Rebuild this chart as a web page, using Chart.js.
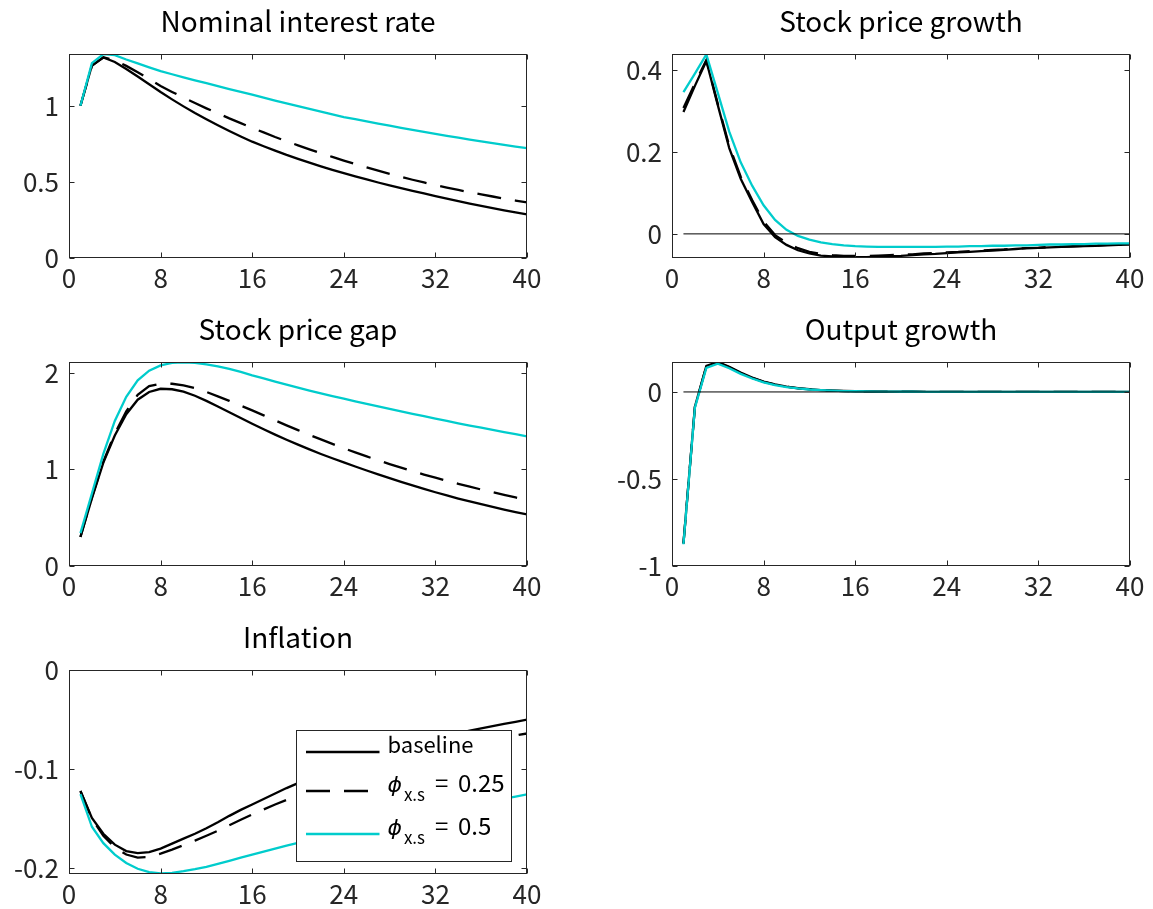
<!DOCTYPE html>
<html>
<head>
<meta charset="utf-8">
<script src="https://cdn.jsdelivr.net/npm/chart.js@4.4.1/dist/chart.umd.min.js"></script>
<style>
html,body{margin:0;padding:0;background:#fff;width:1153px;height:909px;overflow:hidden;position:relative;}
canvas{position:absolute;}
</style>
</head>
<body>
<canvas id="c1" width="550" height="303" style="left:0px;top:0px"></canvas>
<canvas id="c2" width="550" height="303" style="left:603px;top:0px"></canvas>
<canvas id="c3" width="550" height="303" style="left:0px;top:308px"></canvas>
<canvas id="c4" width="550" height="303" style="left:603px;top:308px"></canvas>
<canvas id="c5" width="550" height="303" style="left:0px;top:616px"></canvas>
<script>
// ---------- data ----------
const periods = [1,2,3,4,5,6,7,8,9,10,11,12,13,14,15,16,17,18,19,20,21,22,23,24,25,26,27,28,29,30,31,32,33,34,35,36,37,38,39,40];
const xTicks = [0,8,16,24,32,40];
const xTickLabels = ['0','8','16','24','32','40'];
const titles = ['Nominal interest rate','Stock price growth','Stock price gap','Output growth','Inflation'];
const legendLabels = ['baseline','ϕ_{x.s} = 0.25','ϕ_{x.s} = 0.5'];
const zeroLineX = [1,40];
const zeroLineY = [0,0];

// Nominal interest rate
const rateBaseline = [1.000,1.265,1.317,1.288,1.242,1.192,1.141,1.090,1.042,0.996,0.952,0.911,0.872,0.834,0.798,0.764,0.734,0.705,0.677,0.651,0.626,0.602,0.579,0.557,0.536,0.516,0.496,0.477,0.459,0.441,0.424,0.407,0.390,0.373,0.357,0.342,0.327,0.313,0.299,0.286];
const rateDash = [1.000,1.262,1.318,1.300,1.262,1.220,1.175,1.130,1.091,1.054,1.018,0.983,0.950,0.917,0.886,0.855,0.825,0.795,0.767,0.740,0.714,0.688,0.664,0.640,0.617,0.595,0.574,0.553,0.533,0.514,0.496,0.478,0.462,0.447,0.432,0.418,0.404,0.390,0.377,0.365];
const rateHigh = [1.000,1.280,1.339,1.332,1.304,1.278,1.252,1.227,1.207,1.187,1.167,1.148,1.129,1.110,1.091,1.073,1.053,1.034,1.015,0.997,0.979,0.961,0.943,0.926,0.912,0.897,0.883,0.869,0.855,0.841,0.828,0.815,0.802,0.790,0.778,0.766,0.754,0.743,0.732,0.721];
const rateYTicks = [0,0.5,1];
const rateYLabels = ['0','0.5','1'];

// Stock price growth
const growthBaseline = [0.298,0.362,0.423,0.315,0.210,0.135,0.078,0.024,-0.008,-0.027,-0.040,-0.048,-0.053,-0.055,-0.057,-0.057,-0.057,-0.056,-0.055,-0.054,-0.052,-0.050,-0.049,-0.047,-0.045,-0.044,-0.042,-0.041,-0.039,-0.037,-0.035,-0.034,-0.033,-0.032,-0.031,-0.030,-0.029,-0.028,-0.027,-0.026];
const growthDash = [0.308,0.368,0.425,0.318,0.215,0.140,0.083,0.030,-0.003,-0.022,-0.035,-0.044,-0.049,-0.052,-0.054,-0.054,-0.054,-0.053,-0.052,-0.051,-0.050,-0.048,-0.047,-0.045,-0.044,-0.042,-0.041,-0.039,-0.038,-0.036,-0.035,-0.034,-0.032,-0.031,-0.030,-0.029,-0.028,-0.027,-0.027,-0.026];
const growthHigh = [0.347,0.392,0.439,0.345,0.250,0.175,0.118,0.070,0.034,0.010,-0.005,-0.014,-0.021,-0.025,-0.028,-0.030,-0.031,-0.032,-0.032,-0.032,-0.032,-0.032,-0.032,-0.031,-0.031,-0.030,-0.030,-0.029,-0.029,-0.028,-0.028,-0.027,-0.026,-0.026,-0.025,-0.025,-0.024,-0.024,-0.023,-0.023];
const growthYTicks = [0,0.2,0.4];
const growthYLabels = ['0','0.2','0.4'];

// Stock price gap
const gapBaseline = [0.30,0.70,1.07,1.35,1.57,1.72,1.80,1.833,1.828,1.803,1.761,1.708,1.650,1.590,1.530,1.471,1.414,1.359,1.306,1.255,1.206,1.159,1.114,1.071,1.029,0.988,0.948,0.909,0.871,0.834,0.798,0.763,0.730,0.698,0.668,0.639,0.611,0.584,0.558,0.533];
const gapDash = [0.30,0.71,1.08,1.37,1.60,1.77,1.86,1.885,1.885,1.868,1.840,1.800,1.755,1.708,1.659,1.610,1.558,1.506,1.455,1.405,1.356,1.309,1.263,1.218,1.175,1.133,1.093,1.054,1.017,0.981,0.946,0.913,0.881,0.850,0.820,0.791,0.763,0.736,0.709,0.683];
const gapHigh = [0.34,0.75,1.16,1.50,1.75,1.92,2.02,2.075,2.100,2.106,2.100,2.086,2.065,2.040,2.007,1.972,1.940,1.907,1.875,1.844,1.814,1.785,1.757,1.730,1.703,1.677,1.651,1.625,1.599,1.574,1.549,1.524,1.500,1.476,1.453,1.430,1.407,1.385,1.363,1.341];
const gapYTicks = [0,1,2];
const gapYLabels = ['0','1','2'];

// Output growth
const outBaseline = [-0.870,-0.085,0.150,0.172,0.145,0.112,0.083,0.060,0.043,0.031,0.022,0.016,0.011,0.008,0.006,0.004,0.003,0.002,0.0015,0.001,0.001,0.0007,0.0005,0.0004,0.0003,0.0002,0.0002,0.0001,0.0001,0.0001,0,0,0,0,0,0,0,0,0,0];
const outDash = [-0.872,-0.087,0.147,0.169,0.142,0.109,0.081,0.058,0.042,0.030,0.021,0.015,0.011,0.008,0.005,0.004,0.003,0.002,0.0015,0.001,0.001,0.0007,0.0005,0.0004,0.0003,0.0002,0.0002,0.0001,0.0001,0.0001,0,0,0,0,0,0,0,0,0,0];
const outHigh = [-0.875,-0.090,0.138,0.162,0.136,0.104,0.077,0.055,0.039,0.028,0.020,0.014,0.010,0.007,0.005,0.004,0.003,0.002,0.0015,0.001,0.001,0.0007,0.0005,0.0004,0.0003,0.0002,0.0002,0.0001,0.0001,0.0001,0,0,0,0,0,0,0,0,0,0];
const outYTicks = [-1,-0.5,0];
const outYLabels = ['-1','-0.5','0'];

// Inflation
const inflBaseline = [-0.122,-0.149,-0.165,-0.176,-0.1825,-0.1845,-0.1835,-0.180,-0.175,-0.170,-0.165,-0.1595,-0.1535,-0.147,-0.141,-0.1355,-0.130,-0.1245,-0.119,-0.114,-0.109,-0.1045,-0.100,-0.096,-0.092,-0.088,-0.0845,-0.081,-0.0775,-0.0745,-0.0715,-0.069,-0.066,-0.0635,-0.061,-0.0588,-0.0566,-0.0544,-0.0522,-0.050];
const inflDash = [-0.122,-0.150,-0.167,-0.179,-0.186,-0.189,-0.1885,-0.185,-0.181,-0.1765,-0.172,-0.167,-0.162,-0.1565,-0.151,-0.1455,-0.1405,-0.1355,-0.131,-0.1265,-0.122,-0.118,-0.114,-0.110,-0.106,-0.1025,-0.099,-0.0955,-0.092,-0.089,-0.086,-0.083,-0.0805,-0.078,-0.0755,-0.073,-0.0705,-0.068,-0.066,-0.064];
const inflHigh = [-0.125,-0.158,-0.1745,-0.186,-0.1945,-0.2003,-0.2037,-0.205,-0.2045,-0.2028,-0.2008,-0.1985,-0.1955,-0.1923,-0.1891,-0.186,-0.183,-0.180,-0.177,-0.1742,-0.1714,-0.1686,-0.1659,-0.1632,-0.1605,-0.1579,-0.1553,-0.1528,-0.1503,-0.1478,-0.1454,-0.143,-0.1407,-0.1384,-0.1361,-0.1339,-0.1317,-0.1296,-0.1275,-0.1254];
const inflYTicks = [-0.2,-0.1,0];
const inflYLabels = ['-0.2','-0.1','0'];

// ---------- style ----------
const FONT = '"Noto Sans CJK JP", "Noto Sans", sans-serif';
const AXIS_COLOR = '#262626';
const CYAN = 'rgb(0,204,204)';
const DASH = [24, 14];
const TICK_LEN = 5;
Chart.defaults.font.family = FONT;

const boxPlugin = {
  id: 'matlabBox',
  afterDatasetsDraw(chart) {
    const {ctx, chartArea: a, scales} = chart;
    const L = Math.round(a.left) + 0.5, R = Math.round(a.right) - 0.5;
    const T = Math.round(a.top) + 0.5, B = Math.round(a.bottom) - 0.5;
    ctx.save();
    ctx.strokeStyle = AXIS_COLOR;
    ctx.lineWidth = 1;
    ctx.strokeRect(L, T, R - L, B - T);
    ctx.beginPath();
    scales.x.ticks.forEach(t => {
      const px = Math.round(scales.x.getPixelForValue(t.value)) + 0.5;
      ctx.moveTo(px, B); ctx.lineTo(px, B - TICK_LEN);
      ctx.moveTo(px, T); ctx.lineTo(px, T + TICK_LEN);
    });
    scales.y.ticks.forEach(t => {
      const py = Math.round(scales.y.getPixelForValue(t.value)) + 0.5;
      ctx.moveTo(L, py); ctx.lineTo(L + TICK_LEN, py);
      ctx.moveTo(R, py); ctx.lineTo(R - TICK_LEN, py);
    });
    ctx.stroke();
    ctx.restore();
  }
};

const legendPlugin = {
  id: 'irfLegend',
  afterDraw(chart) {
    const {ctx, chartArea: a} = chart;
    const right = a.right - 15.5, bottom = a.bottom - 12.5;
    const w = 215, h = 131;
    const left = right - w, top = bottom - h;
    ctx.save();
    ctx.fillStyle = '#fff';
    ctx.fillRect(left, top, w, h);
    ctx.strokeStyle = AXIS_COLOR;
    ctx.lineWidth = 1;
    ctx.strokeRect(left, top, w, h);
    const ds = chart.data.datasets.filter(d => d.legendIndex !== undefined)
      .sort((p, q) => p.legendIndex - q.legendIndex);
    const rowBase = [top + 22.5, top + 61.5, top + 104.5];
    const lineX0 = left + 9.5, lineX1 = left + 83;
    const textX = left + 91;
    ds.forEach((d, i) => {
      const yb = rowBase[i];
      ctx.beginPath();
      ctx.strokeStyle = d.borderColor;
      ctx.lineWidth = d.borderWidth;
      ctx.setLineDash(d.borderDash || []);
      ctx.moveTo(lineX0, yb - 1);
      ctx.lineTo(lineX1, yb - 1);
      ctx.stroke();
      ctx.setLineDash([]);
      ctx.fillStyle = '#000';
      ctx.textBaseline = 'alphabetic';
      ctx.textAlign = 'left';
      const label = legendLabels[d.legendIndex];
      const m = label.match(/^(.+?)_\{(.+?)\}\s*=\s*(.+)$/);
      if (!m) {
        ctx.font = '22px ' + FONT;
        ctx.fillText(label, textX, yb);
      } else {
        ctx.font = 'italic 22px "DejaVu Sans"';
        ctx.fillText(m[1], textX, yb);
        let x = textX + ctx.measureText(m[1]).width + 2;
        ctx.font = '17px ' + FONT;
        ctx.fillText(m[2], x, yb + 9);
        x += ctx.measureText(m[2]).width + 10;
        ctx.font = '24px ' + FONT;
        ctx.fillText('=', x, yb);
        x += 23;
        ctx.fillText(m[3], x, yb);
      }
    });
    ctx.restore();
  }
};

function pts(ys) { return periods.map((p, i) => ({x: p, y: ys[i]})); }

function makePanel(id, title, base, dash, high, yMin, yMax, yTicks, yLabels, withZero, withLegend) {
  const datasets = [];
  if (withZero) {
    datasets.push({data: zeroLineX.map((x, i) => ({x: x, y: zeroLineY[i]})), borderColor: '#000', borderWidth: 1,
      pointRadius: 0, tension: 0, fill: false});
  }
  datasets.push({data: pts(high), borderColor: CYAN, borderWidth: 2.3, pointRadius: 0, tension: 0, fill: false, legendIndex: 2});
  datasets.push({data: pts(dash), borderColor: '#000', borderWidth: 2.3, borderDash: DASH, pointRadius: 0, tension: 0, fill: false, legendIndex: 1});
  datasets.push({data: pts(base), borderColor: '#000', borderWidth: 2.3, pointRadius: 0, tension: 0, fill: false, legendIndex: 0});

  const plugins = [boxPlugin];
  if (withLegend) plugins.push(legendPlugin);

  new Chart(document.getElementById(id), {
    type: 'line',
    data: {datasets},
    options: {
      responsive: false,
      animation: false,
      events: [],
      layout: {padding: {left: 0, right: 23, top: 0, bottom: 0}},
      plugins: {
        legend: {display: false},
        tooltip: {enabled: false},
        title: {
          display: true, text: title, fullSize: false, color: '#000',
          font: {size: 28, weight: 'normal', lineHeight: 1.2},
          padding: {top: 4.5, bottom: 15.9}
        }
      },
      scales: {
        x: {
          type: 'linear', min: 0, max: 40,
          grid: {display: false, drawTicks: false}, border: {display: false},
          afterBuildTicks: s => { s.ticks = xTicks.map(v => ({value: v})); },
          afterFit: s => { s.height = 45; },
          ticks: {color: AXIS_COLOR, font: {size: 26}, padding: 5, maxRotation: 0, autoSkip: false,
            callback: (v, i) => xTickLabels[i]}
        },
        y: {
          type: 'linear', min: yMin, max: yMax,
          grid: {display: false, drawTicks: false}, border: {display: false},
          afterBuildTicks: s => { s.ticks = yTicks.map(v => ({value: v})); },
          afterFit: s => { s.width = 69; },
          ticks: {color: AXIS_COLOR, font: {size: 26}, padding: 10, autoSkip: false,
            callback: (v, i) => yLabels[i]}
        }
      }
    },
    plugins
  });
}

makePanel('c1', titles[0], rateBaseline, rateDash, rateHigh, 0, 1.34, rateYTicks, rateYLabels, false, false);
makePanel('c2', titles[1], growthBaseline, growthDash, growthHigh, -0.059, 0.44, growthYTicks, growthYLabels, true, false);
makePanel('c3', titles[2], gapBaseline, gapDash, gapHigh, 0, 2.11, gapYTicks, gapYLabels, false, false);
makePanel('c4', titles[3], outBaseline, outDash, outHigh, -1, 0.172, outYTicks, outYLabels, true, false);
makePanel('c5', titles[4], inflBaseline, inflDash, inflHigh, -0.2056, 0, inflYTicks, inflYLabels, false, true);
</script>
</body>
</html>
